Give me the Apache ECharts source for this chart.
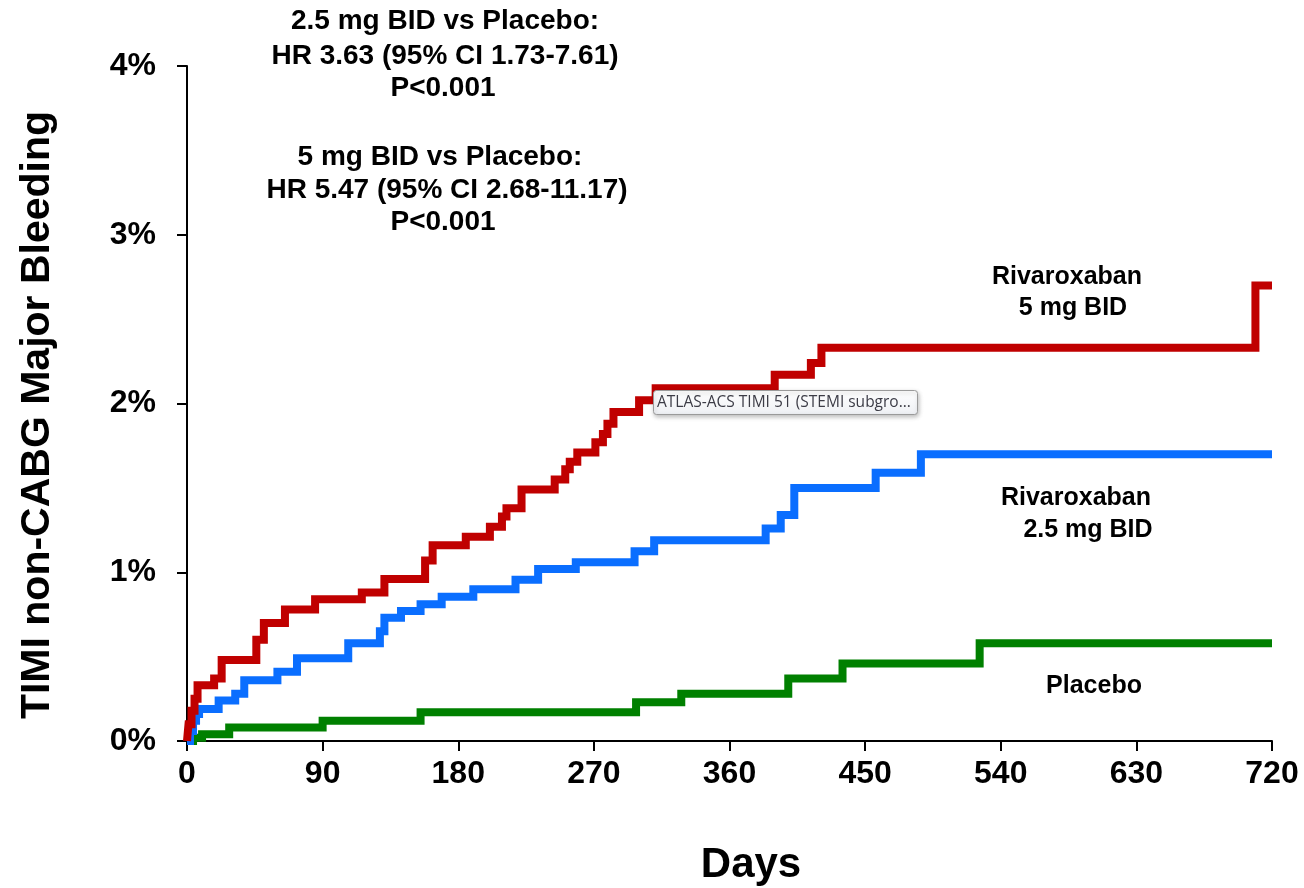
<!DOCTYPE html>
<html>
<head>
<meta charset="utf-8">
<title>TIMI non-CABG Major Bleeding</title>
<script src="https://cdn.jsdelivr.net/npm/echarts@6/dist/echarts.min.js"></script>
<style>
  html, body { margin: 0; padding: 0; background: #fff; }
  #chart { width: 1304px; height: 888px; }
</style>
</head>
<body>
<div id="chart"></div>
<script>
// Kaplan-Meier step data: day at which each new level starts, and cumulative %
const placeboDays = [0, 4, 10, 28, 90, 155, 298, 328, 399, 435, 526, 720];
const placeboPct  = [0, 0.02, 0.04, 0.08, 0.12, 0.17, 0.23, 0.28, 0.37, 0.46, 0.58, 0.58];

const riva25Days = [0, 2, 4, 6, 8, 21, 32, 38, 60, 73, 107, 128, 131, 142, 155, 169, 190, 218, 233, 258, 297, 310, 384, 394, 403, 457, 487, 720];
const riva25Pct  = [0, 0.06, 0.12, 0.16, 0.19, 0.24, 0.28, 0.36, 0.41, 0.49, 0.58, 0.65, 0.73, 0.77, 0.81, 0.855, 0.90, 0.955, 1.02, 1.06, 1.125, 1.19, 1.26, 1.34, 1.50, 1.59, 1.70, 1.70];

const riva5Days = [0, 1, 3, 5, 7, 18, 23, 46, 51, 65, 85, 116, 131, 158, 163, 185, 201, 209, 212, 222, 244, 251, 254, 259, 271, 276, 279, 283, 300, 311, 390, 414, 421, 709, 720];
const riva5Pct  = [0, 0.10, 0.18, 0.25, 0.33, 0.37, 0.48, 0.60, 0.70, 0.78, 0.84, 0.88, 0.96, 1.07, 1.16, 1.21, 1.27, 1.33, 1.38, 1.49, 1.55, 1.61, 1.655, 1.71, 1.77, 1.82, 1.88, 1.95, 2.02, 2.09, 2.17, 2.24, 2.33, 2.70, 2.70];

const xTicks = [0, 90, 180, 270, 360, 450, 540, 630, 720];
const yTicks = [0, 1, 2, 3, 4];

const annotationLines = [
  '2.5 mg BID vs Placebo:',
  'HR 3.63 (95% CI 1.73-7.61)',
  'P<0.001',
  '5 mg BID vs Placebo:',
  'HR 5.47 (95% CI 2.68-11.17)',
  'P<0.001'
];

const FONT = '"Liberation Sans", Arial, Helvetica, sans-serif';

function pairs(days, pct) {
  return days.map((d, i) => [d, pct[i]]);
}

function stepSeries(name, days, pct, color, z) {
  return {
    name: name,
    type: 'line',
    step: 'end',
    data: pairs(days, pct),
    showSymbol: false,
    symbol: 'none',
    z: z,
    lineStyle: { color: color, width: 8, cap: 'butt', join: 'miter' },
    emphasis: { disabled: true },
    animation: false
  };
}

function boldText(text, x, y, size, align) {
  return {
    type: 'text',
    x: x, y: y,
    z: 50,
    style: {
      text: text,
      font: 'bold ' + size + 'px ' + FONT,
      fill: '#000',
      align: align || 'center',
      verticalAlign: 'middle'
    }
  };
}

const chart = echarts.init(document.getElementById('chart'), null, { renderer: 'canvas' });

const graphics = [
  // statistical annotations
  boldText(annotationLines[0], 445, 21, 28),
  boldText(annotationLines[1], 445, 56, 28),
  boldText(annotationLines[2], 443, 88, 28),
  boldText(annotationLines[3], 440, 157, 28),
  boldText(annotationLines[4], 447, 190, 28),
  boldText(annotationLines[5], 443, 222, 28),
  // series labels
  boldText('Rivaroxaban', 1067, 277, 25),
  boldText('5 mg BID', 1073, 308, 25),
  boldText('Rivaroxaban', 1076, 498, 25),
  boldText('2.5 mg BID', 1088, 530, 25),
  boldText('Placebo', 1094, 686, 25),
  // axis titles
  boldText('Days', 751, 865, 42),
  {
    type: 'text',
    x: 38, y: 415,
    rotation: Math.PI / 2,
    z: 50,
    style: {
      text: 'TIMI non-CABG Major Bleeding',
      font: 'bold 41px ' + FONT,
      fill: '#000',
      align: 'center',
      verticalAlign: 'middle'
    }
  },
  // hover note box
  {
    type: 'rect',
    z: 60,
    shape: { x: 653.5, y: 390.5, width: 264, height: 24, r: 3 },
    style: {
      fill: new echarts.graphic.LinearGradient(0, 0, 0, 1, [
        { offset: 0, color: '#ffffff' },
        { offset: 1, color: '#eef0f4' }
      ]),
      stroke: '#9a9a9a',
      lineWidth: 1,
      shadowBlur: 4,
      shadowOffsetX: 1,
      shadowOffsetY: 2,
      shadowColor: 'rgba(0,0,0,0.25)'
    }
  },
  {
    type: 'text',
    x: 657, y: 403,
    z: 61,
    style: {
      text: 'ATLAS-ACS TIMI 51 (STEMI subgro...',
      font: '15.5px "Open Sans", "DejaVu Sans", sans-serif',
      fill: '#3c3c46',
      align: 'left',
      verticalAlign: 'middle'
    }
  }
];

chart.setOption({
  animation: false,
  backgroundColor: '#ffffff',
  grid: { left: 187, right: 32, top: 66, bottom: 147, containLabel: false },
  xAxis: {
    type: 'value',
    min: xTicks[0],
    max: xTicks[xTicks.length - 1],
    interval: xTicks[1] - xTicks[0],
    axisLine: { show: true, onZero: false, lineStyle: { color: '#000', width: 2 } },
    axisTick: { show: true, inside: false, length: 10, lineStyle: { color: '#000', width: 2 } },
    axisLabel: { margin: 17, color: '#000', fontWeight: 'bold', fontSize: 32, fontFamily: FONT },
    splitLine: { show: false }
  },
  yAxis: {
    type: 'value',
    min: yTicks[0],
    max: yTicks[yTicks.length - 1],
    interval: yTicks[1] - yTicks[0],
    axisLine: { show: true, onZero: false, lineStyle: { color: '#000', width: 2 } },
    axisTick: { show: true, inside: false, length: 10, lineStyle: { color: '#000', width: 2 } },
    axisLabel: { margin: 31, color: '#000', fontWeight: 'bold', fontSize: 32, fontFamily: FONT, formatter: '{value}%' },
    splitLine: { show: false }
  },
  series: [
    stepSeries('Placebo', placeboDays, placeboPct, '#008000', 2),
    stepSeries('Rivaroxaban 2.5 mg BID', riva25Days, riva25Pct, '#0A6EFF', 3),
    stepSeries('Rivaroxaban 5 mg BID', riva5Days, riva5Pct, '#C00000', 4)
  ],
  graphic: graphics
});
</script>
</body>
</html>
